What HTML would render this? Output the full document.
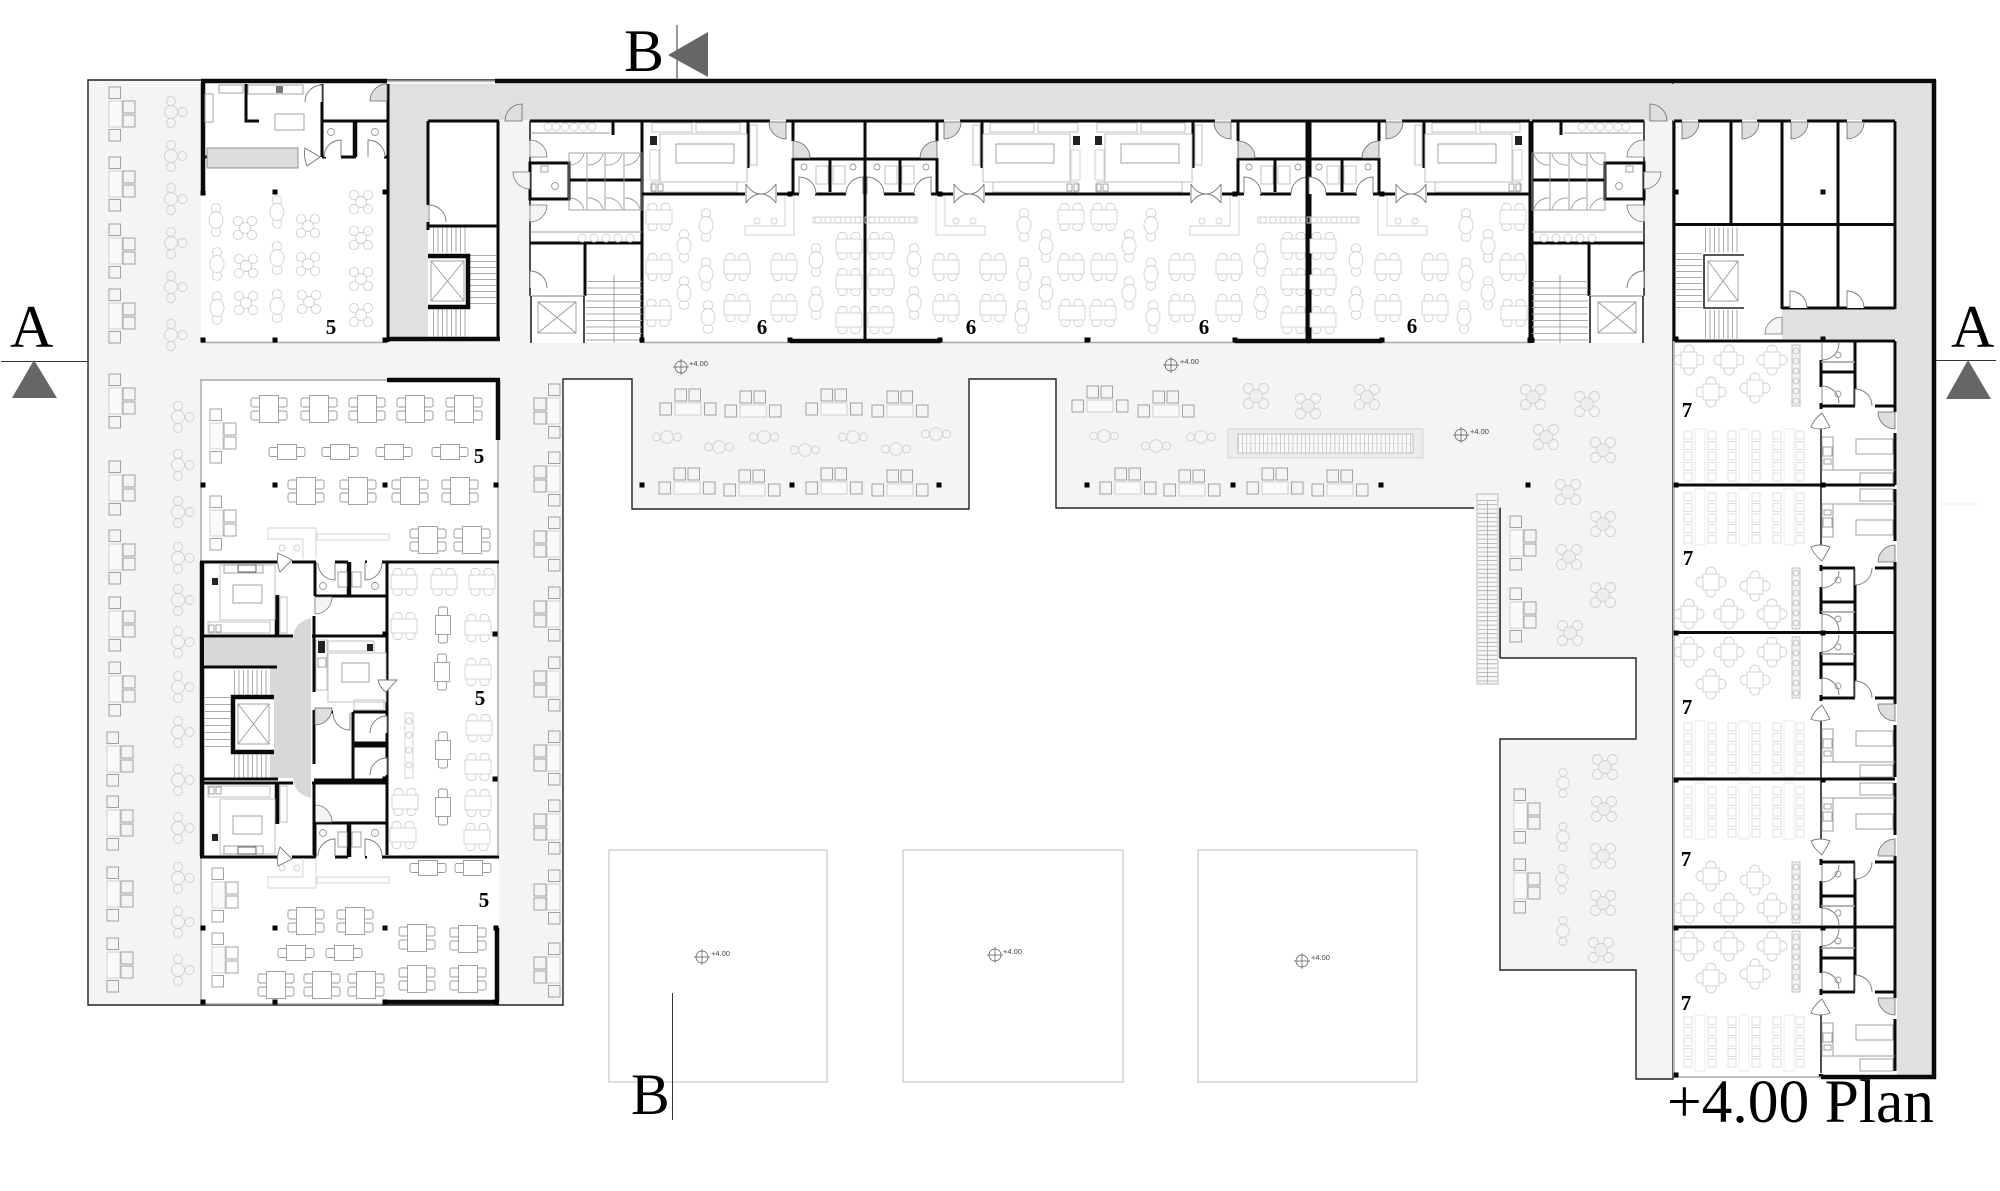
<!DOCTYPE html>
<html><head><meta charset="utf-8"><title>+4.00 Plan</title>
<style>
html,body{margin:0;padding:0;background:#fff;width:2000px;height:1191px;overflow:hidden}
svg{display:block;filter:blur(.35px)}
text{font-family:"Liberation Serif",serif;fill:#000}
.w{fill:none;stroke:#0a0a0a;stroke-width:3}
.wt{fill:none;stroke:#0a0a0a;stroke-width:4.5}
.wn{fill:none;stroke:#222;stroke-width:1.6}
.g{fill:none;stroke:#aaa;stroke-width:1.5}
.f{fill:none;stroke:#d0d0d0;stroke-width:.9}
.f2{fill:#fff;stroke:#d0d0d0;stroke-width:.9}
.k{fill:none;stroke:#999;stroke-width:.9}
.kw{fill:#fff;stroke:#999;stroke-width:.9}
.lb{font-weight:bold;font-size:21px;text-anchor:middle}
.el{font-family:"Liberation Sans",sans-serif;font-size:7.5px;fill:#444}
.stair{fill:none;stroke:#aaa}
</style></head><body>
<svg width="2000" height="1191" viewBox="0 0 2000 1191" xmlns="http://www.w3.org/2000/svg">
<defs>
<path id="d" d="M0 0V-17A17 17 0 0 1 17 0Z" fill="#dedede" stroke="#666" stroke-width=".8"/>
<path id="dw" d="M0 0V-17A17 17 0 0 1 17 0" fill="#fff" stroke="#777" stroke-width=".9"/>
<path id="dl" d="M0 0V-17A17 17 0 0 1 17 0Z" fill="#f4f4f4" stroke="#777" stroke-width=".8"/>
<rect id="c" x="-2.500" y="-2.500" width="5" height="5" fill="#000"/>
<g id="cv" class="f"><circle cx="-7" cy="-7" r="4.600"/><circle cx="7" cy="-7" r="4.600"/><circle cx="-7" cy="7" r="4.600"/><circle cx="7" cy="7" r="4.600"/><circle r="5.500" fill="#fff"/></g>
<g id="cp" class="f"><circle cx="-7.500" cy="-7.500" r="5"/><circle cx="7.500" cy="-7.500" r="5"/><circle cx="-7.500" cy="7.500" r="5"/><circle cx="7.500" cy="7.500" r="5"/><circle r="6.500" fill="#eee"/></g>
<g id="ov" class="f"><circle cy="-11.500" r="4.800"/><circle cy="11.500" r="4.800"/><ellipse rx="7" ry="8.500" fill="#fff"/></g>
<g id="op" class="f"><circle cy="-10.500" r="4"/><circle cy="10.500" r="4"/><circle r="6.300" fill="#f4f4f4"/></g>
<g id="tc" class="f"><circle cy="-11" r="4.500"/><circle cy="11" r="4.500"/><circle cx="11.500" r="4.500"/><circle r="6.500"/></g>
<g id="tv" class="f"><rect x="-11" y="-13.500" width="9" height="8" rx="3.500"/><rect x="2" y="-13.500" width="9" height="8" rx="3.500"/><rect x="-11" y="5.500" width="9" height="8" rx="3.500"/><rect x="2" y="5.500" width="9" height="8" rx="3.500"/><rect class="f2" x="-13" y="-7" width="26" height="14"/></g>
<g id="td" class="k"><rect x="-18" y="-11" width="9" height="9" rx="2"/><rect x="-18" y="2" width="9" height="9" rx="2"/><rect x="9" y="-11" width="9" height="9" rx="2"/><rect x="9" y="2" width="9" height="9" rx="2"/><rect class="kw" x="-9.500" y="-13.500" width="19" height="27"/></g>
<g id="ts" class="k"><rect x="-18" y="-4.500" width="9" height="9" rx="2"/><rect x="9" y="-4.500" width="9" height="9" rx="2"/><rect class="kw" x="-9.500" y="-7.500" width="19" height="15"/></g>
<g id="sh" class="k"><rect x="-13" y="-13" width="11.500" height="12"/><rect x="1" y="-13" width="11.500" height="12"/><rect x="-28" y="1" width="11.500" height="12"/><rect x="16.500" y="1" width="11.500" height="12"/><rect x="-13" y="1" width="26" height="12" fill="#fafafa" stroke="#ccc"/></g>
<g id="sv" class="k"><rect x="-13" y="-27" width="11.500" height="11.500"/><rect x="-13" y="15.500" width="11.500" height="11.500"/><rect x="1" y="-13" width="12" height="12"/><rect x="1" y="1" width="12" height="12"/><rect x="-13" y="-13" width="13" height="26" fill="#fafafa" stroke="#ccc"/></g>
<g id="rs" class="f" stroke-width="1"><circle cy="-10" r="5"/><circle cy="10" r="5"/><circle cx="-10" r="5"/><circle cx="10" r="5"/><rect class="f2" x="-8" y="-8" width="16" height="16"/></g>
<g id="lc" fill="none" stroke="#dcdcdc" stroke-width=".9"><rect x="-4" y="-4" width="8" height="8"/><rect x="-4" y="6.500" width="8" height="8"/><rect x="-4" y="17" width="8" height="8"/><rect x="-4" y="27.500" width="8" height="8"/><rect x="-4" y="38" width="8" height="8"/></g>
<g id="em" stroke="#555" stroke-width=".7" fill="none"><circle r="6"/><path d="M-8 0H8M0-8V8"/></g>

<g id="u">
<path class="w" d="M0 121H128M144 121H223M106 122V168M151 122V141M151 158V194M151 159H223M188 160V192M223 121V343"/>
<path class="w" d="M0 194H103M135 194H157M173 194H204"/>
<use href="#d" transform="translate(144 122) scale(-1 -1)"/>
<use href="#d" transform="translate(151 158)"/>
<use href="#dw" transform="translate(157 194)"/>
<use href="#dw" transform="translate(221 194) scale(-1 1)"/>
<path d="M104 184Q110 194 119 194Q127 194 134 184M104 203Q110 194 119 194Q127 194 134 203M104 184V203M134 184V203" fill="#fff" stroke="#777" stroke-width=".9"/>
<g class="k"><rect x="18" y="134" width="87" height="48" fill="#fff" stroke="#bbb"/><rect x="34" y="144" width="58" height="19"/><rect x="10" y="123" width="40" height="9" stroke="#bbb"/><rect x="54" y="123" width="44" height="9" stroke="#bbb"/><rect x="10" y="182" width="85" height="10" stroke="#bbb"/><rect x="108" y="125" width="7" height="40" stroke="#bbb"/><rect x="8" y="150" width="9" height="30" stroke="#ccc"/></g>
<rect x="8" y="136" width="7" height="9" fill="#222"/>
<g class="k" stroke="#666"><rect x="9" y="184" width="5" height="7"/><rect x="16" y="184" width="5" height="7"/></g>
<g class="k"><circle cx="162" cy="167" r="3"/><rect x="174" y="166" width="12" height="18" stroke="#bbb"/><rect x="191" y="166" width="12" height="18" stroke="#bbb"/><circle cx="211" cy="167" r="3"/></g>
<use href="#tv" x="17" y="217"/><use href="#tv" x="17" y="267"/><use href="#tv" x="16" y="313"/>
<use href="#ov" x="64" y="225"/><use href="#ov" x="42" y="246"/><use href="#ov" x="64" y="274"/><use href="#ov" x="42" y="293"/><use href="#ov" x="66" y="317"/>
<use href="#tv" x="95" y="267"/><use href="#tv" x="95" y="308"/><use href="#tv" x="142" y="267"/><use href="#tv" x="142" y="308"/>
<use href="#ov" x="174" y="260"/><use href="#ov" x="174" y="303"/>
<use href="#tv" x="207" y="246"/><use href="#tv" x="207" y="282"/><use href="#tv" x="207" y="320"/>
<path class="f" d="M143 196V226H103V235H152V196"/><circle class="f" cx="115" cy="221" r="3"/><circle class="f" cx="132" cy="221" r="3"/>
<rect class="f" x="171" y="217" width="52" height="6"/>
<g class="f"><circle cx="176" cy="220" r="3.200"/><circle cx="186" cy="220" r="3.200"/><circle cx="196" cy="220" r="3.200"/><circle cx="206" cy="220" r="3.200"/><circle cx="216" cy="220" r="3.200"/></g>
<path class="g" d="M0 342.500H148"/><path class="wt" d="M148 341H223"/>
<use href="#c" x="0" y="340"/><use href="#c" x="148" y="340"/><use href="#c" x="148" y="194"/>
</g>

<g id="core">
<path class="w" d="M530 121H642M642 121V343"/>
<path class="wn" stroke-width="2.200" d="M530 121V141M530 157V163M530 199V206M530 221V296"/>
<path class="w" stroke-width="2.500" d="M530 163H569V199H530Z"/>
<rect class="k" x="541" y="166" width="7" height="6"/><circle class="k" cx="555" cy="186" r="3.500"/>
<path class="w" d="M569 180H642M642 194H660"/>
<path class="w" d="M530 243H642M585 243V296"/>
<path class="g" stroke="#888" d="M530 296H585"/>
<path class="wn" stroke="#777" stroke-width="3" d="M531 296V343M584 296V343"/>
<path class="k" stroke="#bbb" d="M530 133H610M530 232H642"/>
<g class="f"><circle cx="548" cy="127" r="4"/><circle cx="556" cy="127" r="4"/><circle cx="565" cy="127" r="4"/><circle cx="574" cy="127" r="4"/><circle cx="583" cy="127" r="4"/><circle cx="592" cy="127" r="4"/><circle cx="582" cy="238" r="4"/><circle cx="594" cy="238" r="4"/><circle cx="606" cy="238" r="4"/><circle cx="618" cy="238" r="4"/><circle cx="630" cy="238" r="4"/></g>
<path class="w" stroke-width="2" d="M613 121V135"/>
<rect class="k" stroke="#bbb" x="569" y="153" width="73" height="57"/>
<path class="k" stroke="#666" d="M587 153V210M605 153V210M624 153V210"/>
<path class="k" d="M570 165A15 15 0 0 0 584 154M588 165A15 15 0 0 0 603 154M606 165A15 15 0 0 0 622 154M625 165A15 15 0 0 0 640 154M570 198A15 15 0 0 1 584 209M588 198A15 15 0 0 1 603 209M606 198A15 15 0 0 1 622 209M625 198A15 15 0 0 1 640 209"/>
<use href="#dl" transform="translate(530 157)"/>
<use href="#dl" transform="translate(530 172) scale(-1 -1)"/>
<use href="#dl" transform="translate(530 205) scale(1 -1)"/>
<use href="#dw" transform="translate(530 288)"/>
<rect class="k" x="538" y="302" width="38" height="31"/><path class="k" d="M538 302L576 333M576 302L538 333"/>
<path class="stair" stroke-width="56" stroke-dasharray="1 5.500" d="M614 281V343"/><path class="k" d="M614 275V343"/>
<use href="#c" x="642" y="340"/>
</g>

<g id="kb">
<path class="w" d="M200 562H278M292 562H316M335 562H348M365 562H367M382 562H499"/>
<path class="w" d="M315 562V596M315 596H387"/>
<path class="wt" d="M349 562V596M277 595V636"/>
<path class="w" d="M200 636H293M312 636H387"/>
<path class="w" d="M314 616V637"/>
<rect x="220" y="565" width="55" height="55" fill="#fff" stroke="#bbb" stroke-width=".9"/>
<g class="k"><rect x="233" y="585" width="29" height="18"/><rect x="224" y="565" width="39" height="8"/><rect x="238" y="565" width="18" height="7" stroke="#555"/><rect x="208" y="622" width="62" height="11" stroke="#bbb"/><rect x="280" y="597" width="7" height="36" stroke="#bbb"/></g>
<rect x="212" y="578" width="6" height="7" fill="#222"/>
<g class="k" stroke="#444"><rect x="209" y="625" width="5" height="7"/><rect x="216" y="625" width="5" height="7"/></g>
<path d="M278 553L292 560L280 572Q276 562 278 553Z" fill="#fff" stroke="#777" stroke-width=".9"/>
<use href="#dl" transform="translate(315 597) scale(1 -1)"/>
<use href="#dw" transform="translate(335 563) scale(-1 -1)"/>
<use href="#dw" transform="translate(365 563) scale(1 -1)"/>
<g class="k"><circle cx="323" cy="586" r="3.500"/><circle cx="375" cy="586" r="3.500"/><rect x="338" y="572" width="9" height="15"/><rect x="352" y="572" width="9" height="15"/></g>
</g>

<g id="ru">
<path class="w" d="M1821 19V46M1821 62V68M1855 0V65M1821 31H1855M1821 65H1855M1875 65H1895M1895 0V71M1895 92V144"/>
<path d="M1821 21H1855" stroke="#999" stroke-width="1.500"/>
<path class="wn" stroke-width="2.500" d="M1821 86V146"/>
<use href="#dw" transform="translate(1822 2) scale(1 -1)"/>
<use href="#dw" transform="translate(1822 62)"/>
<use href="#dw" transform="translate(1855 65)"/>
<use href="#d" transform="translate(1895 71) scale(-1 -1)"/>
<path d="M1811 86Q1820 90 1830 86L1822 72Q1814 78 1811 86Z" fill="#fff" stroke="#777" stroke-width=".9"/>
<g class="k" stroke="#bbb"><rect x="1856" y="98" width="37" height="15"/><path d="M1833 96V129H1895"/><rect x="1860" y="132" width="33" height="12"/><rect x="1822" y="96" width="11" height="33"/><circle cx="1838" cy="14" r="3"/><circle cx="1838" cy="53" r="3"/></g>
<rect class="k" x="1823" y="106" width="9" height="9"/><rect class="k" stroke="#444" x="1824" y="118" width="7" height="5"/>
<use href="#rs" x="1689" y="19"/><use href="#rs" x="1729" y="19"/><use href="#rs" x="1772" y="19"/><use href="#rs" x="1711" y="51"/><use href="#rs" x="1755" y="47"/>
<rect x="1792" y="4" width="8" height="61" fill="#f5f5f5" stroke="#bbb" stroke-width=".9"/>
<g fill="none" stroke="#bbb" stroke-width=".8"><circle cx="1796" cy="10" r="3"/><circle cx="1796" cy="20" r="3"/><circle cx="1796" cy="30" r="3"/><circle cx="1796" cy="40" r="3"/><circle cx="1796" cy="50" r="3"/><circle cx="1796" cy="60" r="3"/></g>
<path fill="none" stroke="#eaeaea" stroke-width=".9" d="M1695 88H1705V144H1695ZM1739 88H1749V144H1739ZM1784 88H1794V144H1784Z"/>
<use href="#lc" x="1688" y="94"/><use href="#lc" x="1712" y="94"/><use href="#lc" x="1732" y="94"/><use href="#lc" x="1756" y="94"/><use href="#lc" x="1777" y="94"/><use href="#lc" x="1800" y="94"/>
</g>
</defs>

<polygon points="88,80 1673,80 1673,1079 1636,1079 1636,970 1500,970 1500,739 1636,739 1636,658 1500,658 1500,508 1056,508 1056,379 969,379 969,509 632,509 632,379 563,379 563,1005 88,1005" fill="#f4f4f4" stroke="#222" stroke-width="1.400"/>
<rect x="201" y="81" width="186" height="262" fill="#fff"/>
<rect x="201" y="379" width="298" height="624" fill="#fff"/>
<rect x="530" y="121" width="1114" height="222" fill="#fff"/>
<rect x="1673" y="120" width="224" height="957" fill="#fff"/>
<polygon points="387,84 1934,84 1934,1077 1897,1077 1897,120 428,120 428,339 389,339" fill="#e0e0e0"/>
<rect x="428" y="120" width="71" height="220" fill="#fff"/>
<rect x="1782" y="309" width="115" height="30" fill="#e0e0e0"/>

<path class="wt" d="M201 81H387M495 81H1936M1934 80V1079M1821 1077H1936"/>
<path class="g" stroke="#999" d="M387 81H495"/>

<path class="wt" d="M203 83V193"/>
<path class="w" d="M246 84V121H259M322 84V157M322 121H387M388 84V342M322 157H326M341 157H356M384 157H387M201 157H207"/>
<path class="wt" d="M355 122V157"/>
<rect x="207" y="148" width="91" height="20" fill="#ddd" stroke="#888" stroke-width=".9"/>
<path d="M305 148L320 157L307 166Q303 156 305 148Z" fill="#fff" stroke="#777" stroke-width=".9"/>
<use href="#dw" transform="translate(322 102) scale(-1 1)"/>
<use href="#dw" transform="translate(341 157) scale(-1 1)"/>
<use href="#dw" transform="translate(368 157)"/>
<use href="#d" transform="translate(387 101) scale(-1 1)"/>
<g class="k" stroke="#bbb"><rect x="275" y="114" width="29" height="16"/><rect x="219" y="85" width="24" height="8"/><rect x="248" y="85" width="55" height="9"/><rect x="205" y="94" width="8" height="28"/><circle cx="331" cy="132" r="3.500"/><circle cx="375" cy="132" r="3.500"/></g>
<rect x="276" y="86" width="7" height="7" fill="#777"/>
<use href="#ov" x="216" y="220"/><use href="#ov" x="217" y="264"/><use href="#ov" x="217" y="308"/><use href="#ov" x="277" y="212"/><use href="#ov" x="277" y="258"/><use href="#ov" x="277" y="306"/>
<use href="#cv" x="245" y="228"/><use href="#cv" x="308" y="226"/><use href="#cv" x="246" y="266"/><use href="#cv" x="308" y="264"/><use href="#cv" x="246" y="303"/><use href="#cv" x="309" y="302"/><use href="#cv" x="361" y="202"/><use href="#cv" x="361" y="238"/><use href="#cv" x="361" y="279"/><use href="#cv" x="361" y="315"/>
<path class="g" d="M201 342.500H387"/>
<use href="#c" x="203" y="340"/><use href="#c" x="275" y="192"/><use href="#c" x="385" y="192"/><use href="#c" x="275" y="340"/><use href="#c" x="385" y="340"/><use href="#c" x="203" y="193"/>

<path class="w" d="M428 121H499M428 121V205M428 222V230M428 226H498M498 121V341"/>
<path class="wt" d="M387 339H500"/>
<use href="#dw" transform="translate(429 222)"/>
<path class="stair" stroke-width="25" stroke-dasharray="1 3.500" d="M433 240H468"/>
<path class="stair" stroke-width="27" stroke-dasharray="1 3.500" d="M433 323H468"/>
<path class="stair" stroke-width="26" stroke-dasharray="1 5" d="M483 255V306"/>
<path class="wt" d="M428 256H468V307H428"/>
<rect class="k" x="431" y="261" width="33" height="40"/><path class="k" d="M431 261L464 301M464 261L431 301"/>

<use href="#d" transform="translate(522 121) scale(-1 1)"/>
<use href="#d" transform="translate(1650 121)"/>
<use href="#core"/>
<use href="#core" transform="translate(2174 0) scale(-1 1)"/>
<use href="#u" x="642"/>
<use href="#u" transform="translate(1088 0) scale(-1 1)"/>
<use href="#u" x="1087"/>
<use href="#u" transform="translate(1530 0) scale(-1 1)"/>
<path class="w" d="M1530 121V343"/>

<path class="w" d="M1674 121H1682M1698 121H1742M1757 121H1791M1807 121H1847M1862 121H1895M1895 121V309M1731 122V225M1782 122V309M1838 122V309M1674 224.500H1895M1782 308H1895M1674 121V341M1764 341H1895"/>
<path class="w" d="M1674 341H1764"/>
<use href="#d" transform="translate(1682 122) scale(1 -1)"/>
<use href="#d" transform="translate(1742 122) scale(1 -1)"/>
<use href="#d" transform="translate(1791 122) scale(1 -1)"/>
<use href="#d" transform="translate(1847 122) scale(1 -1)"/>
<use href="#dw" transform="translate(1790 308)"/>
<use href="#dw" transform="translate(1847 308)"/>
<use href="#dl" transform="translate(1782 334) scale(-1 1)"/>
<path class="wn" stroke="#888" stroke-width="4" d="M1744 255H1704V308H1744"/>
<rect class="k" x="1708" y="261" width="30" height="40"/><path class="k" d="M1708 261L1738 301M1738 261L1708 301"/>
<path class="stair" stroke-width="27" stroke-dasharray="1 5" d="M1688.500 253V309"/>
<path class="stair" stroke-width="25" stroke-dasharray="1 3.500" d="M1705 240H1740"/>
<path class="stair" stroke-width="30" stroke-dasharray="1 3.500" d="M1705 325H1740"/>
<use href="#c" x="1676" y="192"/><use href="#c" x="1823" y="192"/><use href="#c" x="1676" y="339"/><use href="#c" x="1823" y="339"/>

<use href="#ru" transform="translate(0 341)"/>
<use href="#ru" transform="translate(0 633) scale(1 -1)"/>
<use href="#ru" transform="translate(0 633)"/>
<use href="#ru" transform="translate(0 927) scale(1 -1)"/>
<use href="#ru" transform="translate(0 927)"/>
<path class="w" d="M1674 485H1895M1674 632.500H1895M1674 779H1895M1674 927H1895"/>
<path class="wt" d="M1821 1074V1078"/>
<path class="g" stroke-width="2" d="M1674 341V1077M1674 1077H1821"/>
<use href="#c" x="1676" y="485"/><use href="#c" x="1823" y="485"/><use href="#c" x="1676" y="633"/><use href="#c" x="1823" y="633"/><use href="#c" x="1676" y="780"/><use href="#c" x="1823" y="780"/><use href="#c" x="1676" y="928"/><use href="#c" x="1823" y="928"/><use href="#c" x="1676" y="1075"/>
<path d="M1936 504H1978" stroke="#eee" stroke-width="1"/>

<path class="wt" d="M387 380H500M498 380V440M383 1002H499M497 928V1002"/>
<path class="g" d="M498 440V855M201 380H387M201 1004H383M201 379V1003"/>
<use href="#kb"/>
<use href="#kb" transform="translate(0 1419) scale(1 -1)"/>
<path class="wt" d="M202 562V856"/>
<path d="M204 638H293Q294 622 311 618V798Q294 794 293 778H270V667H204Z" fill="#d8d8d8"/>
<path class="stair" stroke-width="27" stroke-dasharray="1 3.500" d="M234 683.500H268"/>
<path class="stair" stroke-width="26" stroke-dasharray="1 3.500" d="M234 765H268"/>
<path class="stair" stroke-width="28" stroke-dasharray="1 6" d="M219 697V752"/>
<path class="w" d="M314 637V692M314 710V764M314 782V855M387 562V855M315 712H333M353 712H387M353 712V780M314 780H387M353 743H387M353 746H387"/>
<path class="w" d="M204 667H277M202 779H278"/>
<path d="M233 697H274V752H233Z" fill="#fff"/>
<path class="wt" d="M274 697H233V752H274"/>
<rect class="k" x="238" y="704" width="31" height="40"/><path class="k" d="M238 704L269 744M269 704L238 744"/>
<use href="#d" transform="translate(315 708) scale(1 -1)"/>
<rect x="328" y="653" width="58" height="49" fill="#fff" stroke="#bbb" stroke-width=".9"/>
<g class="k"><rect x="342" y="663" width="27" height="19"/><rect x="316" y="640" width="11" height="50" stroke="#bbb"/><rect x="328" y="641" width="46" height="10" stroke="#bbb"/><rect x="354" y="700" width="30" height="10" stroke="#bbb"/><rect x="318" y="658" width="8" height="9"/></g>
<rect x="318" y="641" width="7" height="12" fill="#222"/><rect x="367" y="644" width="6" height="7" fill="#222"/>
<path d="M378 680L397 680L386 692Q380 688 378 680Z" fill="#fff" stroke="#777" stroke-width=".9"/>
<use href="#dw" transform="translate(350 713) scale(-1 -1)"/>
<use href="#dw" transform="translate(387 733) scale(-1 1)"/>
<use href="#dw" transform="translate(387 775) scale(-1 1)"/>
<use href="#c" x="385" y="634"/><use href="#c" x="385" y="779"/><use href="#c" x="495" y="634"/><use href="#c" x="495" y="779"/>
<rect class="f" x="405" y="713" width="8" height="65"/>
<g class="f"><circle cx="409" cy="721" r="3"/><circle cx="409" cy="735" r="3"/><circle cx="409" cy="750" r="3"/><circle cx="409" cy="765" r="3"/></g>

<use href="#td" x="269" y="409"/><use href="#td" x="319" y="409"/><use href="#td" x="367" y="409"/><use href="#td" x="415" y="409"/><use href="#td" x="464" y="409"/>
<use href="#ts" x="287" y="452"/><use href="#ts" x="340" y="452"/><use href="#ts" x="394" y="452"/><use href="#ts" x="450" y="452"/>
<use href="#td" x="306" y="491"/><use href="#td" x="358" y="491"/><use href="#td" x="410" y="491"/><use href="#td" x="460" y="491"/>
<use href="#td" x="428" y="540"/><use href="#td" x="472" y="540"/>
<use href="#sv" x="223" y="436"/><use href="#sv" x="223" y="523"/>
<path class="f" d="M268 528H316V559M268 528V539H303V559"/>
<circle class="f" cx="282" cy="548" r="3"/><circle class="f" cx="297" cy="548" r="3"/>
<rect class="f" x="317" y="534" width="72" height="6"/>
<use href="#tv" x="404" y="582"/><use href="#tv" x="444" y="582"/><use href="#tv" x="482" y="582"/><use href="#tv" x="404" y="626"/><use href="#tv" x="478" y="628"/><use href="#tv" x="478" y="672"/><use href="#tv" x="479" y="728"/><use href="#tv" x="478" y="767"/><use href="#tv" x="405" y="802"/><use href="#tv" x="478" y="803"/><use href="#tv" x="403" y="835"/><use href="#tv" x="477" y="837"/>
<use href="#ts" transform="translate(443 625) rotate(90)"/><use href="#ts" transform="translate(442 672) rotate(90)"/><use href="#ts" transform="translate(443 750) rotate(90)"/><use href="#ts" transform="translate(443 807) rotate(90)"/>
<use href="#sv" x="225" y="895"/><use href="#sv" x="225" y="960"/>
<use href="#td" x="306" y="921"/><use href="#td" x="355" y="921"/><use href="#td" x="417" y="938"/><use href="#td" x="468" y="939"/><use href="#td" x="417" y="979"/><use href="#td" x="468" y="979"/><use href="#td" x="276" y="985"/><use href="#td" x="322" y="985"/><use href="#td" x="366" y="985"/>
<use href="#ts" x="428" y="868"/><use href="#ts" x="473" y="868"/><use href="#ts" x="296" y="953"/><use href="#ts" x="344" y="953"/>
<path class="f" d="M268 888H316V858M268 888V877H303V858"/>
<circle class="f" cx="282" cy="868" r="3"/><circle class="f" cx="297" cy="868" r="3"/>
<rect class="f" x="317" y="877" width="72" height="6"/>
<use href="#c" x="203" y="485"/><use href="#c" x="275" y="485"/><use href="#c" x="385" y="485"/><use href="#c" x="496" y="485"/>
<use href="#c" x="203" y="928"/><use href="#c" x="275" y="928"/><use href="#c" x="385" y="928"/><use href="#c" x="496" y="928"/><use href="#c" x="203" y="1002"/><use href="#c" x="275" y="1002"/><use href="#c" x="385" y="1002"/><use href="#c" x="496" y="1002"/>

<use href="#sv" x="122" y="114"/><use href="#sv" x="122" y="184"/><use href="#sv" x="122" y="251"/><use href="#sv" x="122" y="316"/><use href="#sv" x="122" y="401"/><use href="#sv" x="122" y="488"/><use href="#sv" x="122" y="557"/><use href="#sv" x="122" y="624"/><use href="#sv" x="122" y="689"/><use href="#sv" x="120" y="759"/><use href="#sv" x="120" y="823"/><use href="#sv" x="120" y="894"/><use href="#sv" x="120" y="965"/>
<use href="#tc" x="171" y="112"/><use href="#tc" x="171" y="156"/><use href="#tc" x="171" y="199"/><use href="#tc" x="171" y="243"/><use href="#tc" x="171" y="287"/><use href="#tc" x="171" y="335"/>
<use href="#tc" x="178" y="417"/><use href="#tc" x="178" y="465"/><use href="#tc" x="178" y="512"/><use href="#tc" x="178" y="558"/><use href="#tc" x="178" y="600"/><use href="#tc" x="178" y="642"/><use href="#tc" x="178" y="687"/><use href="#tc" x="178" y="732"/><use href="#tc" x="178" y="780"/><use href="#tc" x="178" y="828"/><use href="#tc" x="178" y="878"/><use href="#tc" x="178" y="922"/><use href="#tc" x="178" y="970"/>
<use href="#sv" transform="translate(547 411) scale(-1 1)"/><use href="#sv" transform="translate(547 479) scale(-1 1)"/><use href="#sv" transform="translate(547 544) scale(-1 1)"/><use href="#sv" transform="translate(547 614) scale(-1 1)"/><use href="#sv" transform="translate(547 684) scale(-1 1)"/><use href="#sv" transform="translate(547 758) scale(-1 1)"/><use href="#sv" transform="translate(547 827) scale(-1 1)"/><use href="#sv" transform="translate(547 897) scale(-1 1)"/><use href="#sv" transform="translate(547 970) scale(-1 1)"/>

<use href="#sh" x="688" y="402"/><use href="#sh" x="753" y="404"/><use href="#sh" x="834" y="402"/><use href="#sh" x="900" y="404"/><use href="#sh" x="1100" y="399"/><use href="#sh" x="1166" y="404"/>
<use href="#sh" x="687" y="481"/><use href="#sh" x="752" y="483"/><use href="#sh" x="834" y="481"/><use href="#sh" x="900" y="483"/><use href="#sh" x="1128" y="481"/><use href="#sh" x="1192" y="483"/><use href="#sh" x="1275" y="481"/><use href="#sh" x="1340" y="483"/>
<use href="#op" transform="translate(667 437) rotate(90)"/><use href="#op" transform="translate(719 447) rotate(90)"/><use href="#op" transform="translate(764 437) rotate(90)"/><use href="#op" transform="translate(805 450) rotate(90)"/><use href="#op" transform="translate(853 437) rotate(90)"/><use href="#op" transform="translate(896 449) rotate(90)"/><use href="#op" transform="translate(936 434) rotate(90)"/><use href="#op" transform="translate(1104 436) rotate(90)"/><use href="#op" transform="translate(1156 446) rotate(90)"/><use href="#op" transform="translate(1201 437) rotate(90)"/>
<use href="#cp" x="1256" y="396"/><use href="#cp" x="1308" y="406"/><use href="#cp" x="1367" y="397"/><use href="#cp" x="1533" y="397"/><use href="#cp" x="1587" y="404"/><use href="#cp" x="1546" y="437"/><use href="#cp" x="1603" y="450"/><use href="#cp" x="1568" y="492"/><use href="#cp" x="1603" y="524"/><use href="#cp" x="1569" y="557"/><use href="#cp" x="1603" y="595"/><use href="#cp" x="1570" y="633"/><use href="#cp" x="1605" y="767"/><use href="#cp" x="1604" y="809"/><use href="#cp" x="1603" y="856"/><use href="#cp" x="1603" y="903"/><use href="#cp" x="1601" y="950"/>
<use href="#op" x="1563" y="783"/><use href="#op" x="1563" y="837"/><use href="#op" x="1562" y="879"/><use href="#op" x="1563" y="931"/>
<use href="#sv" x="1523" y="543"/><use href="#sv" x="1523" y="615"/><use href="#sv" x="1527" y="816"/><use href="#sv" x="1527" y="886"/>
<use href="#c" x="792" y="485"/><use href="#c" x="939" y="485"/><use href="#c" x="642" y="485"/><use href="#c" x="1087" y="485"/><use href="#c" x="1233" y="485"/><use href="#c" x="1381" y="485"/><use href="#c" x="1528" y="485"/>

<rect x="1228" y="429" width="195" height="29" fill="#ececec" stroke="#ccc" stroke-width=".8"/>
<rect x="1238" y="434" width="175" height="19" fill="#fafafa" stroke="#aaa" stroke-width=".7"/>
<path d="M1238 443.500H1413" stroke="#bbb" stroke-width="18" stroke-dasharray=".7 3.500" fill="none"/>
<path d="M1238 443.500H1413" stroke="#ccc" stroke-width=".6"/>
<rect x="1474" y="502" width="26" height="187" fill="#fff"/>
<rect x="1477" y="494" width="21" height="190" fill="#f7f7f7" stroke="#aaa" stroke-width=".8"/>
<path d="M1487.500 500V684" stroke="#aaa" stroke-width="19" stroke-dasharray=".8 3.500" fill="none"/>
<path d="M1487.500 500V684" stroke="#aaa" stroke-width=".7" fill="none"/>
<path d="M1500 508V658" stroke="#222" stroke-width="1.400"/>

<rect x="609" y="850" width="218" height="232" fill="#fff" stroke="#c8c8c8" stroke-width="1.200"/>
<rect x="903" y="850" width="220" height="232" fill="#fff" stroke="#c8c8c8" stroke-width="1.200"/>
<rect x="1198" y="850" width="219" height="232" fill="#fff" stroke="#c8c8c8" stroke-width="1.200"/>

<use href="#em" x="681" y="367"/><text class="el" x="689" y="366">+4.00</text>
<use href="#em" x="1171" y="365"/><text class="el" x="1180" y="364">+4.00</text>
<use href="#em" x="1461" y="435"/><text class="el" x="1470" y="434">+4.00</text>
<use href="#em" x="702" y="957"/><text class="el" x="711" y="956">+4.00</text>
<use href="#em" x="995" y="955"/><text class="el" x="1003" y="954">+4.00</text>
<use href="#em" x="1302" y="961"/><text class="el" x="1311" y="960">+4.00</text>

<text class="lb" x="331" y="334">5</text><text class="lb" x="479" y="463">5</text><text class="lb" x="480" y="705">5</text><text class="lb" x="484" y="907">5</text>
<text class="lb" x="762" y="334">6</text><text class="lb" x="971" y="334">6</text><text class="lb" x="1204" y="334">6</text><text class="lb" x="1412" y="333">6</text>
<text class="lb" x="1687" y="417">7</text><text class="lb" x="1688" y="565">7</text><text class="lb" x="1687" y="714">7</text><text class="lb" x="1686" y="866">7</text><text class="lb" x="1686" y="1010">7</text>

<path d="M1 361.500H88M1936 360.500H1996M677 25V80M672.500 993V1120" stroke="#333" stroke-width="1" fill="none"/>
<polygon points="34,360 12,398 57,398" fill="#666"/>
<polygon points="1968,360 1946,399 1991,399" fill="#666"/>
<polygon points="668,55 708,32 708,77" fill="#666"/>
<text x="10" y="347" font-size="60">A</text>
<text x="1951" y="347" font-size="60">A</text>
<text x="624" y="71" font-size="60">B</text>
<text x="631" y="1114" font-size="58">B</text>
<text x="1667" y="1122" font-size="61.500">+4.00 Plan</text>
</svg>
</body></html>
